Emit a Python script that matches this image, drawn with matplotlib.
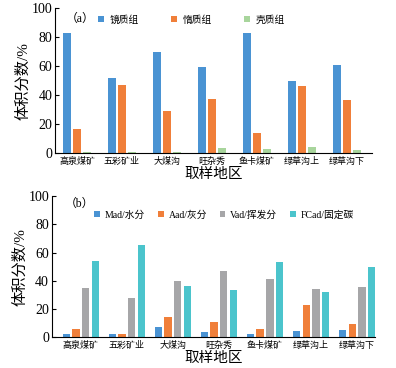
import matplotlib
matplotlib.use('Agg')
import matplotlib.pyplot as plt
import numpy as np

plt.rcParams['font.family'] = ['Liberation Serif', 'Noto Sans CJK SC', 'DejaVu Sans']

# 取样地区
地区 = ['高泉煤矿', '五彩矿业', '大煤沟', '旺杂秀', '鱼卡煤矿', '绿草沟上', '绿草沟下']

# (a) 显微组分
镜质组 = [83, 52, 69.5, 59.5, 83, 49.5, 61]
惰质组 = [16.5, 47, 29, 37, 14, 46.5, 36.5]
壳质组 = [0.8, 1, 1, 3.7, 3, 4, 2.2]

# (b) 工业分析
Mad = [2.5, 2.5, 7, 3.5, 2, 4, 4.8]
Aad = [6, 2.5, 14.5, 11, 5.5, 23, 9]
Vad = [35, 28, 40, 47, 41, 34, 35.5]
FCad = [54, 65, 36.5, 33.5, 53, 32, 50]

蓝 = '#4a93d3'
橙 = '#f07f3a'
绿 = '#a8d59c'
灰 = '#a6a6a8'
青 = '#4bc4cc'


def 设置坐标轴(ax):
    ax.spines['top'].set_visible(False)
    ax.spines['right'].set_visible(False)
    ax.set_ylim(0, 100)
    ax.set_yticks([0, 20, 40, 60, 80, 100])
    ax.tick_params(axis='y', direction='in', length=3, labelsize=10, pad=2)
    ax.tick_params(axis='x', length=0, labelsize=6.5, pad=3)
    ax.set_xticks(np.arange(len(地区)))
    ax.set_xticklabels(地区)
    ax.set_ylabel('体积分数/%', fontsize=11, labelpad=1)
    ax.set_xlabel('取样地区', fontsize=10.5, labelpad=1)


fig = plt.figure(figsize=(3.96, 3.68), dpi=100)
x = np.arange(len(地区))

# (a)
ax1 = fig.add_axes([0.139, 0.584, 0.800, 0.394])
w = 0.18
ax1.bar(x - 0.22, 镜质组, w, color=蓝, label='镜质组')
ax1.bar(x, 惰质组, w, color=橙, label='惰质组')
ax1.bar(x + 0.22, 壳质组, w, color=绿, label='壳质组')
ax1.set_xlim(-0.49, 6.56)
设置坐标轴(ax1)
ax1.text(0.035, 0.965, '（a）', transform=ax1.transAxes, fontsize=8.5, va='top')
ax1.legend(ncol=3, loc='upper left', bbox_to_anchor=(0.115, 1.0), frameon=False,
           fontsize=7, handlelength=0.6, handleheight=0.6, handletextpad=0.6,
           columnspacing=3.3, borderaxespad=0.3)

# (b)
ax2 = fig.add_axes([0.131, 0.084, 0.816, 0.383])
w = 0.16
ax2.bar(x - 0.315, Mad, w, color=蓝, label='Mad/水分')
ax2.bar(x - 0.105, Aad, w, color=橙, label='Aad/灰分')
ax2.bar(x + 0.105, Vad, w, color=灰, label='Vad/挥发分')
ax2.bar(x + 0.315, FCad, w, color=青, label='FCad/固定碳')
ax2.set_xlim(-0.63, 6.39)
设置坐标轴(ax2)
ax2.text(0.04, 0.99, '（b）', transform=ax2.transAxes, fontsize=8.5, va='top')
ax2.legend(ncol=4, loc='upper left', bbox_to_anchor=(0.11, 0.95), frameon=False,
           fontsize=7, handlelength=0.6, handleheight=0.6, handletextpad=0.5,
           columnspacing=1.3, borderaxespad=0.3)

fig.savefig('out.png', dpi=100)
